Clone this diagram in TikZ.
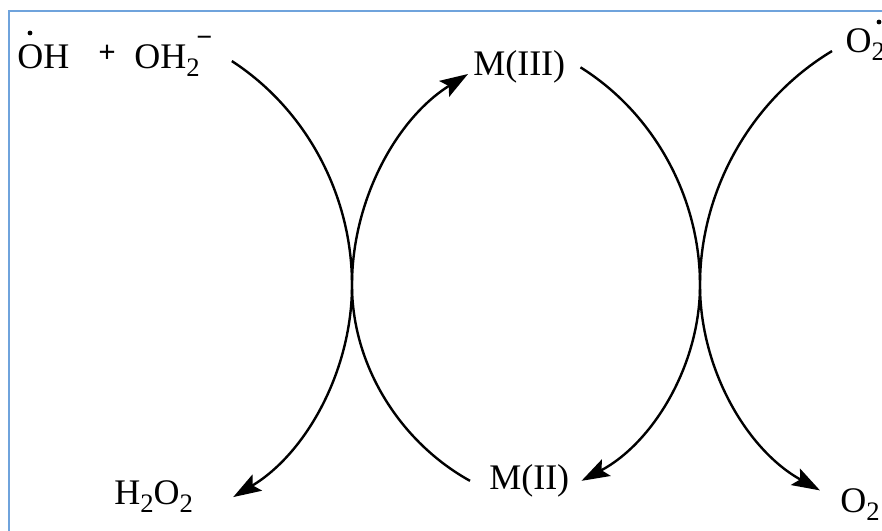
\documentclass[tikz,border=0pt]{standalone}
\usepackage{xcolor}
\usepackage{fontspec}
\setmainfont{Liberation Serif}
\usetikzlibrary{arrows.meta, positioning, calc}
\definecolor{framecol}{HTML}{6FA3DC}
\newcommand{\subtwo}{\raisebox{-6pt}{\fontsize{20}{20}\selectfont 2}}

\begin{document}
\begin{tikzpicture}[x=0.75pt, y=0.75pt,
    every node/.style={inner ysep=0pt, inner xsep=0pt, anchor=base west, font=\fontsize{27}{27}\selectfont},
    radical/.style={circle, fill=black, minimum size=3.6pt, anchor=center},
    curve/.style={line width=1.8pt, black, looseness=0.9},
    tipped/.style={curve, -{Stealth[length=21pt, width=14pt, inset=4pt]}}]
    \clip (0,0) rectangle (882,531);
    \draw[framecol, line width=1.7pt] (882,520) -- (9,520) -- (9,0);

    \node (oh) at (17,462) {OH};
    \node[radical] (ohdot) at (30,498) {};
    \node[font=\fontsize{23}{23}\bfseries] (plus) at (98,468) {+};
    \node[inner xsep=24pt] (oohtwo) at (102,462) {OH\subtwo};
    \node[font=\fontsize{21}{21}\bfseries] (minus) at (196,484.5) {−};
    \node[inner xsep=3.75pt] (mthree) at (468,455) {M(III)};
    \node[inner xsep=14.25pt] (mtwo) at (470,41.5) {M(II)};
    \node[inner xsep=30pt] (peroxide) at (74,26) {H\subtwo O\subtwo};
    \node[inner xsep=10pt] (superoxide) at (832,478) {O\subtwo};
    \node[radical] (superdot) at (879,509) {};
    \node[inner xsep=15pt] (oxygen) at (820,18) {O\subtwo};

    \coordinate (crossl) at (352,246);
    \coordinate (crossr) at (700,246);

    \draw[tipped] (oohtwo.east) to[out=-33, in=90] (crossl) to[out=-90, in=31] (peroxide.east);
    \draw[tipped] (mtwo.west) to[out=151, in=-90] (crossl) to[out=90, in=212] ([yshift=-5pt]mthree.west);
    \draw[tipped] ([xshift=7.5pt]mthree.east) to[out=-32, in=90] (crossr) to[out=-90, in=28] ([xshift=-5.25pt]mtwo.east);
    \draw[tipped] ([yshift=-4.5pt]superoxide.west) to[out=211, in=90] (crossr) to[out=-90, in=151] ([yshift=11pt]oxygen.west);
\end{tikzpicture}
\end{document}
